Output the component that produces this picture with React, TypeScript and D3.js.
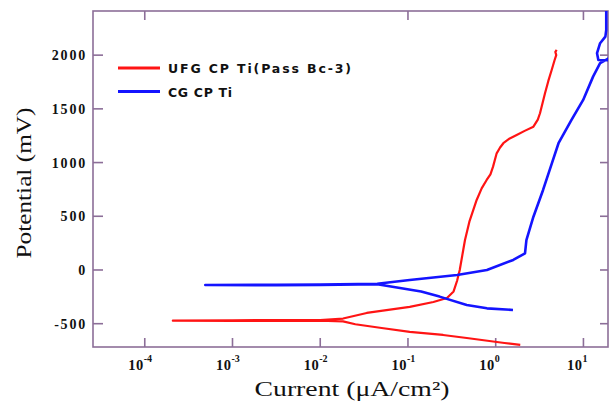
import React from "react";
import * as d3 from "d3";

// Current in μA/cm² (stored as log10 exponents), potential in mV
const ufgLogCurrent = [0.28, 0.1, -0.33, -0.6, -0.98, -1.3, -1.6, -1.74, -2.0, -2.5, -3.0, -3.68,
  -3.0, -2.5, -2.0, -1.74, -1.47, -0.98, -0.71, -0.555, -0.48, -0.44, -0.41, -0.37, -0.35, -0.3,
  -0.217, -0.16, -0.103, -0.06, -0.03, 0.011, 0.05, 0.087, 0.16, 0.239, 0.33, 0.43, 0.48, 0.505,
  0.562, 0.6, 0.638, 0.67, 0.69, 0.68, 0.695];
const ufgPotential = [-698, -680, -633, -605, -577, -540, -505, -478, -472, -474, -473, -472,
  -468, -467, -466, -452, -400, -344, -298, -261, -200, -100, 0, 186, 279, 450,
  652, 760, 838, 890, 962, 1086, 1140, 1180, 1225, 1257, 1295, 1334, 1400, 1459,
  1645, 1760, 1862, 1950, 2000, 2030, 2048];

const cgLogCurrent = [0.197, -0.1, -0.33, -0.64, -0.85, -1.35, -2.0, -2.5, -3.31,
  -2.5, -2.0, -1.35, -0.98, -0.44, -0.1, 0.2, 0.334, 0.35, 0.43, 0.54, 0.64, 0.716,
  0.864, 0.997, 1.11, 1.19, 1.29, 1.35, 1.35, 1.17, 1.155, 1.19, 1.25, 1.26, 1.26, 1.26];
const cgPotential = [-372, -357, -326, -248, -200, -132, -140, -141, -140,
  -137, -136, -128, -93, -47, 0, 93, 155, 279, 496, 745, 993, 1180,
  1397, 1583, 1800, 1925, 1971, 1975, 1950, 1955, 2018, 2111, 2172, 2235, 2358, 2420];

const yTicks = [-500, 0, 500, 1000, 1500, 2000];
const xTickExponents = [-4, -3, -2, -1, 0, 1];
const topTickExponents = [-4, -1, 1];

const seriesNames = ["UFG CP Ti(Pass Bc-3)", "CG CP Ti"];
const seriesColors = ["#ff1414", "#1414ff"];

const W = 609, H = 408;
const left = 93, right = 608, top = 11, bottom = 347;
const axisColor = "#8c6e98";

export default function App() {
  const x = d3.scaleLog().domain([Math.pow(10, -4.59), Math.pow(10, 1.28)]).range([left, right]);
  const y = d3.scaleLinear().domain([-717, 2411]).range([bottom, top]);

  const line = d3.line<[number, number]>().x(d => x(d[0])).y(d => y(d[1]));
  const ufg: [number, number][] = ufgLogCurrent.map((l, i) => [Math.pow(10, l), ufgPotential[i]]);
  const cg: [number, number][] = cgLogCurrent.map((l, i) => [Math.pow(10, l), cgPotential[i]]);

  const serif = "'Liberation Serif', 'Times New Roman', serif";
  const sans = "'DejaVu Sans', Verdana, sans-serif";

  return (
    <svg width={W} height={H} style={{ position: "absolute", left: 0, top: 0, background: "#fff" }}>
      <defs>
        <clipPath id="plot">
          <rect x={left} y={top} width={right - left} height={bottom - top} />
        </clipPath>
      </defs>
      <rect width={W} height={H} fill="#fff" />
      {/* frame */}
      <rect x={left} y={top} width={right - left} height={bottom - top} fill="none" stroke={axisColor} strokeWidth={1.6} />
      {/* y ticks */}
      {yTicks.map(t => (
        <g key={t}>
          <line x1={left} x2={left + 10} y1={y(t)} y2={y(t)} stroke={axisColor} strokeWidth={1.6} />
          <line x1={right - 8} x2={right} y1={y(t)} y2={y(t)} stroke={axisColor} strokeWidth={1.6} />
          <text x={87} y={y(t) + 5} textAnchor="end" fontFamily={serif} fontWeight="bold" fontSize={14} letterSpacing={1.8} fill="#111">{t}</text>
        </g>
      ))}
      {/* x ticks */}
      {xTickExponents.map(e => {
        const px = x(Math.pow(10, e));
        return (
          <g key={e}>
            <line x1={px} x2={px} y1={bottom} y2={bottom - 9} stroke={axisColor} strokeWidth={1.6} />
            <text x={px - 1} y={370} textAnchor="end" fontFamily={serif} fontWeight="bold" fontSize={14.5} letterSpacing={0.5} fill="#111">10</text>
            <text x={px - 1} y={362} textAnchor="start" fontFamily={serif} fontWeight="bold" fontSize={10} fill="#111">{e}</text>
          </g>
        );
      })}
      {topTickExponents.map(e => {
        const px = x(Math.pow(10, e));
        return <line key={e} x1={px} x2={px} y1={top} y2={top + 9} stroke={axisColor} strokeWidth={1.6} />;
      })}
      {/* curves */}
      <g clipPath="url(#plot)">
        <path d={line(ufg) || ""} fill="none" stroke={seriesColors[0]} strokeWidth={2.2} strokeLinejoin="round" />
        <path d={line(cg) || ""} fill="none" stroke={seriesColors[1]} strokeWidth={2.6} strokeLinejoin="round" />
      </g>
      {/* legend */}
      {seriesNames.map((n, i) => {
        const ly = 68 + i * 23.5;
        return (
          <g key={n}>
            <line x1={118} x2={160} y1={ly} y2={ly} stroke={seriesColors[i]} strokeWidth={3} />
            <text x={168} y={ly + 5} fontFamily={sans} fontWeight="bold" fontSize={12.5} fill="#111"
              textLength={i === 0 ? 183 : 64} lengthAdjust="spacing">{n}</text>
          </g>
        );
      })}
      {/* axis titles */}
      <text x={352} y={396} textAnchor="middle" fontFamily={serif} fontSize={22} fill="#111" textLength={195} lengthAdjust="spacingAndGlyphs">Current (μA/cm²)</text>
      <text transform="translate(31,183) rotate(-90)" textAnchor="middle" fontFamily={serif} fontSize={22} fill="#111" textLength={151} lengthAdjust="spacingAndGlyphs">Potential (mV)</text>
    </svg>
  );
}
